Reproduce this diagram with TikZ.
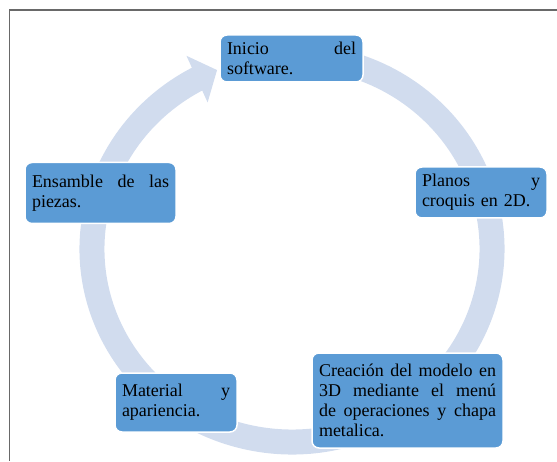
\documentclass[tikz,border=0pt]{standalone}
\usepackage{fontspec}
\setmainfont{Liberation Serif}
\usepackage{tikz}
\usetikzlibrary{arrows.meta, bending, positioning, calc}

\definecolor{boxblue}{RGB}{91,155,213}
\definecolor{ringblue}{RGB}{209,220,238}
\definecolor{framegray}{RGB}{105,105,105}

\begin{document}
\begin{tikzpicture}[x=1pt, y=1pt,
  stage/.style={draw=white, line width=1.5pt, fill=boxblue, rounded corners=7pt,
    inner xsep=7pt, inner ysep=3pt, align=left, font=\fontsize{18}{20}\selectfont},
  cyclering/.style={ringblue, line width=25pt, -{Triangle[length=22pt, width=50pt]}}]
\useasboundingbox (0,0) rectangle (557,461);
% frame
\draw[framegray, line width=1.2pt] (557,451) -- (9.6,451) -- (9.6,0);

% ring behind the boxes
\draw[cyclering] ($(292,212)+(75:200 and 193)$) arc[start angle=75, end angle=-248, x radius=200, y radius=193];

% stages
\node[stage, text width=129pt, minimum height=47pt] (inicio) at (291.5,402.5) {Inicio\hfill del\\software.};
\node[stage, text width=118pt, minimum height=51pt] (planos) at (481,268.5) {Planos\hfill y\\croquis en 2D.};
\node[stage, text width=177pt, minimum height=95pt] (creacion) at (407.5,60.5) {Creación\hfill del\hfill modelo\hfill en\\3D\hfill mediante\hfill el\hfill menú\\de\hfill operaciones\hfill y\hfill chapa\\metalica.};
\node[stage, text width=108pt, minimum height=59pt] (material) at (176,58.5) {Material\hfill y\\apariencia.};
\node[stage, text width=137pt, minimum height=61pt] (ensamble) at (100.5,268) {Ensamble\hfill de\hfill las\\piezas.};
\end{tikzpicture}
\end{document}
